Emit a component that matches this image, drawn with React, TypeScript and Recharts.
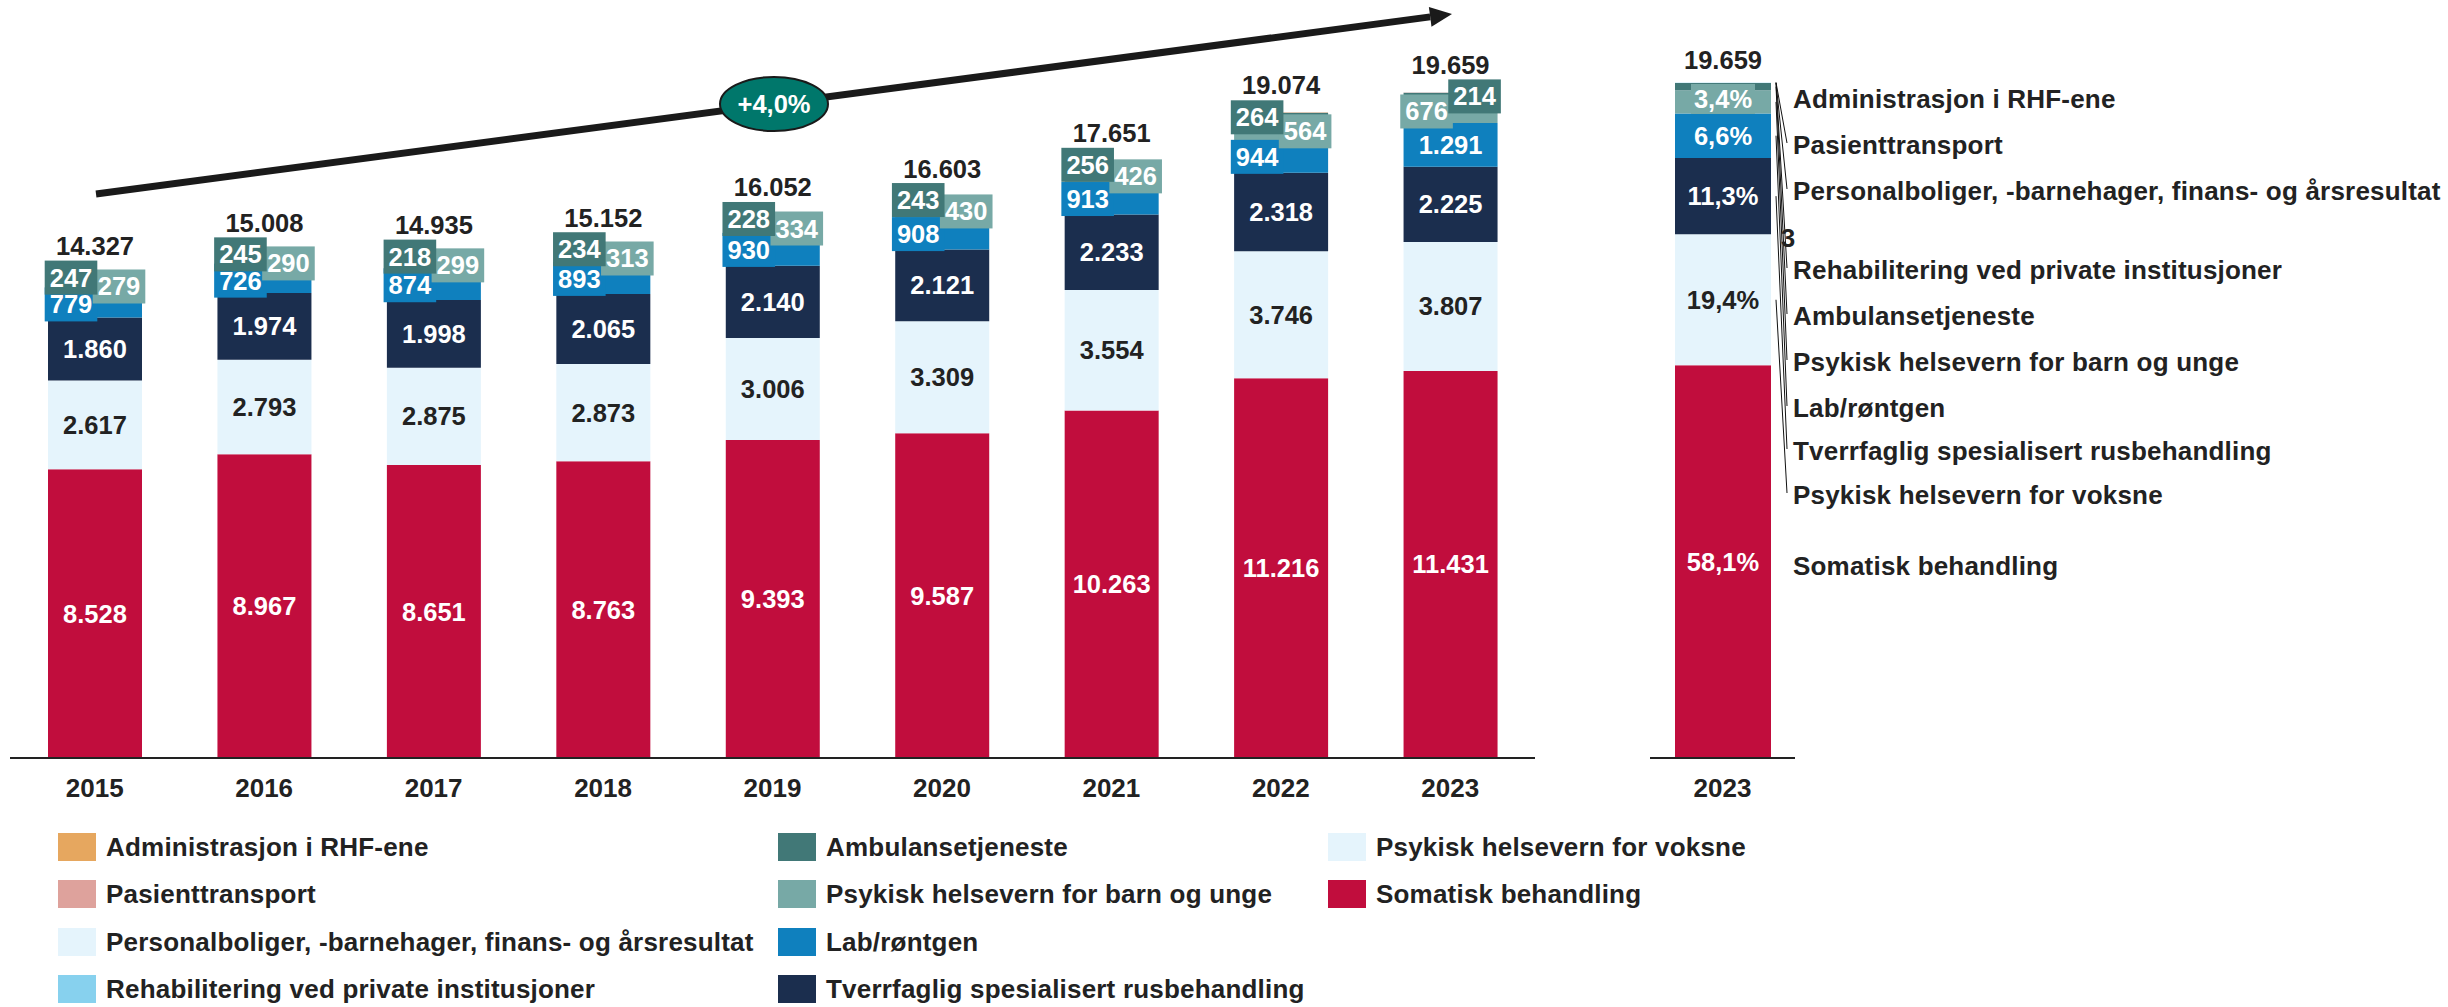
import React from "react";
import { BarChart, Bar, XAxis, YAxis, LabelList } from "recharts";

// values in MNOK
const years = ["2015", "2016", "2017", "2018", "2019", "2020", "2021", "2022", "2023"];
const somatisk = [8528, 8967, 8651, 8763, 9393, 9587, 10263, 11216, 11431];
const psykVoksne = [2617, 2793, 2875, 2873, 3006, 3309, 3554, 3746, 3807];
const rusbehandling = [1860, 1974, 1998, 2065, 2140, 2121, 2233, 2318, 2225];
const labRontgen = [779, 726, 874, 893, 930, 908, 913, 944, 1291];
const psykBarn = [279, 290, 299, 313, 334, 430, 426, 564, 676];
const ambulanse = [247, 245, 218, 234, 228, 243, 256, 264, 214];
const rehab = [5, 4, 6, 3, 6, 1, 2, 4, 4];
const personal = [4, 3, 5, 2, 5, 1, 1, 3, 8];
const pasient = [5, 4, 6, 4, 7, 2, 2, 12, 2];
const admin = [3, 2, 3, 2, 3, 1, 1, 3, 1];
const growthLabel = "+4,0%";
const strayLabel = "3";

const FONT = "'Liberation Sans', Arial, Helvetica, sans-serif";
const INK = "#222";

type Series = {
  key: string;
  name: string;
  color: string;
  values: number[];
  mode: "inside" | "small" | "none";
  ink: string;
};

// bottom to top
const series: Series[] = [
  { key: "som", name: "Somatisk behandling", color: "#C10D3D", values: somatisk, mode: "inside", ink: "#fff" },
  { key: "voksne", name: "Psykisk helsevern for voksne", color: "#E5F4FC", values: psykVoksne, mode: "inside", ink: INK },
  { key: "tsb", name: "Tverrfaglig spesialisert rusbehandling", color: "#1B2E4E", values: rusbehandling, mode: "inside", ink: "#fff" },
  { key: "lab", name: "Lab/røntgen", color: "#0F80BE", values: labRontgen, mode: "small", ink: "#fff" },
  { key: "barn", name: "Psykisk helsevern for barn og unge", color: "#77A9A6", values: psykBarn, mode: "small", ink: "#fff" },
  { key: "amb", name: "Ambulansetjeneste", color: "#417877", values: ambulanse, mode: "small", ink: "#fff" },
  { key: "rehab", name: "Rehabilitering ved private institusjoner", color: "#87D1EE", values: rehab, mode: "none", ink: INK },
  { key: "pers", name: "Personalboliger, -barnehager, finans- og årsresultat", color: "#E5F4FC", values: personal, mode: "none", ink: INK },
  { key: "pas", name: "Pasienttransport", color: "#DEA29C", values: pasient, mode: "none", ink: INK },
  { key: "adm", name: "Administrasjon i RHF-ene", color: "#E6A75F", values: admin, mode: "none", ink: INK },
];

const totals = years.map((_, i) => series.reduce((s, ser) => s + ser.values[i], 0));

const data = years.map((year, i) => {
  const row: any = { year, i };
  series.forEach((s) => (row[s.key] = s.values[i]));
  return row;
});

const last = years.length - 1;
const shareData = [
  (() => {
    const row: any = { year: years[last], i: last };
    series.forEach((s) => (row[s.key] = s.values[last]));
    return row;
  })(),
];

// label rows next to the share bar (y in px)
const SIDE_LABEL_Y: Record<string, number> = {
  adm: 99, pas: 145, pers: 191, rehab: 270, amb: 316, barn: 362, lab: 408, tsb: 451, voksne: 495, som: 566,
};

const fmt = (n: number) => String(Math.round(n)).replace(/\B(?=(\d{3})+(?!\d))/g, ".");
const pct = (v: number, t: number) => ((v / t) * 100).toFixed(1).replace(".", ",") + "%";

const textProps = { fontFamily: FONT, fontWeight: 700 } as const;
const NUM = 25.5;
const NAME = 26;

function vbOf(props: any) {
  const vb = props.viewBox ?? props;
  return { x: vb.x as number, y: vb.y as number, w: vb.width as number, h: vb.height as number };
}

function segLabel(s: Series) {
  return (props: any) => {
    const { x, y, w, h } = vbOf(props);
    const i = props.value as number;
    const v = s.values[i];
    const cx = x + w / 2;
    const cy = y + h / 2;
    const plain = (
      <text x={cx} y={cy} textAnchor="middle" dominantBaseline="central" fill={s.ink} fontSize={NUM} {...textProps}>
        {fmt(v)}
      </text>
    );
    if (s.mode === "inside") return plain;
    const labH = (h * labRontgen[i]) / v;
    const labBoxed = labH < 38;
    let side = 0;
    if (s.key === "lab") {
      if (!labBoxed) return plain;
      side = -1;
    } else if (s.key === "barn") side = labBoxed ? 1 : -1;
    else side = labBoxed ? -1 : 1;
    const bx = cx + side * 24;
    const t = fmt(v);
    const bw = t.length * 14.2 + 10;
    return (
      <g>
        <rect x={bx - bw / 2} y={cy - 17} width={bw} height={34} fill={s.color} />
        <text x={bx} y={cy} textAnchor="middle" dominantBaseline="central" fill="#fff" fontSize={NUM} {...textProps}>
          {t}
        </text>
      </g>
    );
  };
}

function totalLabel(gap: number) {
  return (props: any) => {
    const { x, y, w } = vbOf(props);
    const i = props.value as number;
    return (
      <text x={x + w / 2} y={y - gap} textAnchor="middle" fill={INK} fontSize={NUM} {...textProps}>
        {fmt(totals[i])}
      </text>
    );
  };
}

function shareLabel(s: Series) {
  return (props: any) => {
    const { x, y, w, h } = vbOf(props);
    const i = props.value as number;
    const v = s.values[i];
    const cx = x + w / 2;
    const cy = y + h / 2;
    const right = x + w;
    const ly = SIDE_LABEL_Y[s.key];
    const parts: React.ReactNode[] = [];
    if (s.mode !== "none" && h >= 15) {
      const t = pct(v, totals[i]);
      if (h < 30) {
        parts.push(<rect key="b" x={cx - 32} y={cy - 18} width={64} height={30} fill={s.color} />);
      }
      parts.push(
        <text key="p" x={cx} y={h < 30 ? cy - 3 : cy} textAnchor="middle" dominantBaseline="central" fill={s.ink} fontSize={NUM} {...textProps}>
          {t}
        </text>
      );
    }
    if (Math.abs(ly - cy) > 20) {
      parts.push(<line key="l" x1={right + 5} y1={cy} x2={right + 16} y2={ly - 2} stroke="#111" strokeWidth={1} />);
    }
    parts.push(
      <text key="n" x={right + 22} y={ly} dominantBaseline="central" fill={INK} fontSize={NAME} letterSpacing={0.2} {...textProps}>
        {s.name}
      </text>
    );
    return <g>{parts}</g>;
  };
}

const YearTick = (p: any) => (
  <text x={p.x} y={p.y + 30} textAnchor="middle" dominantBaseline="central" fill={INK} fontSize={26} {...textProps}>
    {p.payload.value}
  </text>
);

const legendCols = [
  ["adm", "pas", "pers", "rehab"],
  ["amb", "barn", "lab", "tsb"],
  ["voksne", "som"],
];
const legendX = [58, 778, 1328];

function Legend() {
  return (
    <>
      {legendCols.map((col, ci) =>
        col.map((k, ri) => {
          const s = series.find((q) => q.key === k)!;
          return (
            <div
              key={k}
              style={{
                position: "absolute",
                left: legendX[ci],
                top: 833 + ri * 47.3,
                height: 28,
                display: "flex",
                alignItems: "center",
                whiteSpace: "nowrap",
              }}
            >
              <div style={{ width: 38, height: 28, background: s.color, marginRight: 10 }} />
              <span style={{ fontFamily: FONT, fontWeight: 700, fontSize: NAME, letterSpacing: 0.2, color: INK, lineHeight: "28px" }}>
                {s.name}
              </span>
            </div>
          );
        })
      )}
    </>
  );
}

export default function App() {
  const ax = 96, ay = 194, tx = 1452, ty = 14;
  const len = Math.hypot(tx - ax, ty - ay);
  const ux = (tx - ax) / len, uy = (ty - ay) / len;
  const bx = tx - 22 * ux, by = ty - 22 * uy;
  const head = `${tx},${ty} ${bx - 10 * uy},${by + 10 * ux} ${bx + 10 * uy},${by - 10 * ux}`;
  const ex = ax + (tx - ax) * 0.5, ey = ay + (ty - ay) * 0.5;

  return (
    <div style={{ position: "absolute", left: 0, top: 0, width: 2448, height: 1007, background: "#fff", overflow: "hidden" }}>
      <div style={{ position: "absolute", left: 0, top: 0 }}>
        <BarChart width={1545} height={820} data={data} margin={{ top: 13, right: 10, bottom: 0, left: 10 }} barSize={94}>
          <YAxis hide domain={[0, 22000]} />
          <XAxis dataKey="year" height={62} tickSize={0} tickMargin={0} axisLine={{ stroke: INK, strokeWidth: 2 }} tickLine={false} tick={<YearTick />} interval={0} />
          {series.map((s, idx) => (
            <Bar key={s.key} dataKey={s.key} stackId="a" fill={s.color} isAnimationActive={false}>
              {s.mode !== "none" && <LabelList dataKey="i" content={segLabel(s)} />}
              {idx === series.length - 1 && <LabelList dataKey="i" content={totalLabel(18)} />}
            </Bar>
          ))}
        </BarChart>
      </div>

      <div style={{ position: "absolute", left: 1640, top: 0 }}>
        <BarChart width={808} height={820} data={shareData} margin={{ top: 2, right: 653, bottom: 0, left: 10 }} barSize={96}>
          <YAxis hide domain={[0, 22000]} />
          <XAxis dataKey="year" height={62} tickSize={0} tickMargin={0} axisLine={{ stroke: INK, strokeWidth: 2 }} tickLine={false} tick={<YearTick />} />
          {series.map((s, idx) => (
            <Bar key={s.key} dataKey={s.key} stackId="a" fill={s.color} isAnimationActive={false}>
              <LabelList dataKey="i" content={shareLabel(s)} />
              {idx === series.length - 1 && <LabelList dataKey="i" content={totalLabel(13)} />}
            </Bar>
          ))}
        </BarChart>
      </div>

      <svg width={2448} height={1007} style={{ position: "absolute", left: 0, top: 0, pointerEvents: "none" }}>
        <line x1={ax} y1={ay} x2={bx} y2={by} stroke="#1a1a1a" strokeWidth={7} />
        <polygon points={head} fill="#1a1a1a" />
        <ellipse cx={ex} cy={ey} rx={54} ry={27} fill="#00776B" stroke="#1a1a1a" strokeWidth={2} />
        <text x={ex} y={ey} textAnchor="middle" dominantBaseline="central" fill="#fff" fontSize={NUM} {...textProps}>
          {growthLabel}
        </text>
        <text x={1781} y={238} dominantBaseline="central" fill={INK} fontSize={NUM} {...textProps}>
          {strayLabel}
        </text>
      </svg>

      <Legend />
    </div>
  );
}
